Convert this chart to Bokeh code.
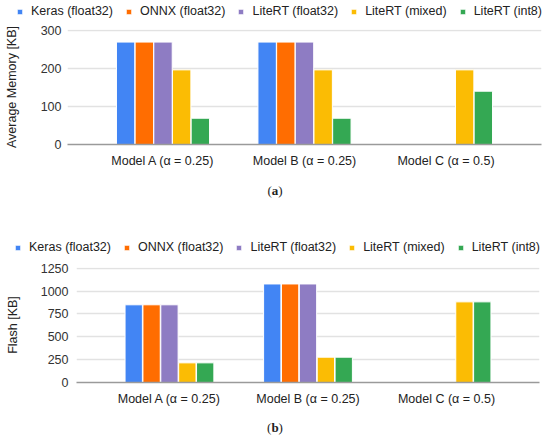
import math
from bokeh.plotting import figure
from bokeh.models import (ColumnDataSource, FactorRange, FixedTicker, Legend,
                          LegendItem, Div, Range1d, Spacer)
from bokeh.transform import dodge
from bokeh.layouts import column, row
from bokeh.embed import file_html
from bokeh.resources import INLINE

models = ["Model A (α = 0.25)", "Model B (α = 0.25)", "Model C (α = 0.5)"]
series = ["Keras (float32)", "ONNX (float32)", "LiteRT (float32)",
          "LiteRT (mixed)", "LiteRT (int8)"]
colors = ["#4285F4", "#FF6D01", "#8E7CC3", "#FBBC04", "#34A853"]

# (a) Average memory [KB]
mem_keras = [269, 269, None]
mem_onnx = [269, 269, None]
mem_litert_f32 = [269, 269, None]
mem_litert_mixed = [196, 196, 196]
mem_litert_int8 = [69, 69, 140]
mem_ticks = [0, 100, 200, 300]

# (b) Flash [KB]
flash_keras = [850, 1078, None]
flash_onnx = [850, 1078, None]
flash_litert_f32 = [850, 1078, None]
flash_litert_mixed = [215, 277, 882]
flash_litert_int8 = [215, 277, 882]
flash_ticks = [0, 250, 500, 750, 1000, 1250]

FONT = "Liberation Sans"
W = 550


def nan(v):
    return [float("nan") if x is None else x for x in v]


def make_legend_fig(height, loc):
    p = figure(width=W, height=height, x_range=Range1d(0, 1),
               y_range=Range1d(0, 1), x_axis_type=None, y_axis_type=None,
               min_border=0, output_backend="svg", toolbar_location=None)
    p.outline_line_color = None
    items = []
    for s, c in zip(series, colors):
        # off-screen proxy bar, only used to draw the legend swatch
        r = p.vbar(x=[5], top=[1], width=0.1, fill_color=c,
                   line_color="white", line_width=1)
        items.append(LegendItem(label=s, renderers=[r]))
    leg = Legend(items=items, location=loc, orientation="horizontal",
                 padding=0, margin=0, spacing=12, label_standoff=8,
                 glyph_width=7, glyph_height=7, label_height=14,
                 border_line_color=None, background_fill_alpha=0,
                 label_text_font=FONT, label_text_font_size="12.5px",
                 label_text_color="#222222")
    p.add_layout(leg, "center")
    return p


def make_chart(vals, ylabel, ticks, ymax, mb_left, fw, mb_top, fh, mb_bottom,
               pad, step, bw, ylab_standoff, tick_standoff, total_w):
    keys = ["s0", "s1", "s2", "s3", "s4"]
    data = {"model": models}
    for k, v in zip(keys, vals):
        data[k] = nan(v)
    src = ColumnDataSource(data)
    p = figure(x_range=FactorRange(factors=models, range_padding=pad,
                                   range_padding_units="absolute"),
               y_range=Range1d(0, ymax),
               frame_width=fw, frame_height=fh,
               min_border_left=mb_left, min_border_right=total_w - mb_left - fw,
               min_border_top=mb_top, min_border_bottom=mb_bottom,
               output_backend="svg", toolbar_location=None)
    for i, (k, c) in enumerate(zip(keys, colors)):
        p.vbar(x=dodge("model", (i - 2) * step, range=p.x_range), top=k,
               width=bw, source=src, fill_color=c, line_color="white",
               line_width=1)

    p.outline_line_color = None
    p.xgrid.grid_line_color = None
    p.ygrid.grid_line_color = "#e2e2e2"
    p.ygrid.grid_line_width = 1.3

    p.yaxis.ticker = FixedTicker(ticks=ticks)
    p.yaxis.axis_line_color = None
    p.yaxis.major_tick_line_color = None
    p.yaxis.minor_tick_line_color = None
    p.yaxis.major_tick_out = 0
    p.yaxis.major_tick_in = 0
    p.yaxis.major_label_standoff = tick_standoff
    p.yaxis.major_label_text_font = FONT
    p.yaxis.major_label_text_font_size = "12.5px"
    p.yaxis.major_label_text_color = "#333333"
    p.yaxis.axis_label = ylabel
    p.yaxis.axis_label_text_font = FONT
    p.yaxis.axis_label_text_font_size = "12.5px"
    p.yaxis.axis_label_text_font_style = "normal"
    p.yaxis.axis_label_text_color = "#222222"
    p.yaxis.axis_label_standoff = ylab_standoff

    p.xaxis.axis_line_color = "#9a9a9a"
    p.xaxis.axis_line_width = 1.5
    p.xaxis.major_tick_line_color = None
    p.xaxis.minor_tick_line_color = None
    p.xaxis.major_tick_out = 0
    p.xaxis.major_tick_in = 0
    p.xaxis.major_label_standoff = 9
    p.xaxis.major_label_text_font = FONT
    p.xaxis.major_label_text_font_size = "12.5px"
    p.xaxis.major_label_text_color = "#222222"
    return p


leg_a = make_legend_fig(22, (16, 4))
pa = make_chart([mem_keras, mem_onnx, mem_litert_f32, mem_litert_mixed,
                 mem_litert_int8],
                "Average Memory [KB]", mem_ticks, 302,
                mb_left=67, fw=474, mb_top=7, fh=115, mb_bottom=31,
                pad=0.175, step=0.132, bw=0.13, ylab_standoff=19,
                tick_standoff=6, total_w=W)

leg_b = make_legend_fig(51, (14, 4))
pb = make_chart([flash_keras, flash_onnx, flash_litert_f32, flash_litert_mixed,
                 flash_litert_int8],
                "Flash [KB]", flash_ticks, 1258,
                mb_left=76, fw=463, mb_top=9, fh=115, mb_bottom=30,
                pad=0.171, step=0.129, bw=0.125, ylab_standoff=18,
                tick_standoff=8, total_w=W)

cap_style = {"text-align": "center", "font-family": "Liberation Serif",
             "font-size": "13px", "color": "#222222", "margin": "0",
             "padding": "0", "overflow": "hidden"}
da = Div(text="(<b>a</b>)", width=W, height=32,
         styles=dict(cap_style, **{"line-height": "32px"}))
db = Div(text="(<b>b</b>)", width=W, height=26,
         styles=dict(cap_style, **{"line-height": "32px"}))

layout = column(row(leg_a), row(pa), da, row(leg_b), row(pb), db, spacing=0)
open("out.html", "w").write(file_html(layout, INLINE))
